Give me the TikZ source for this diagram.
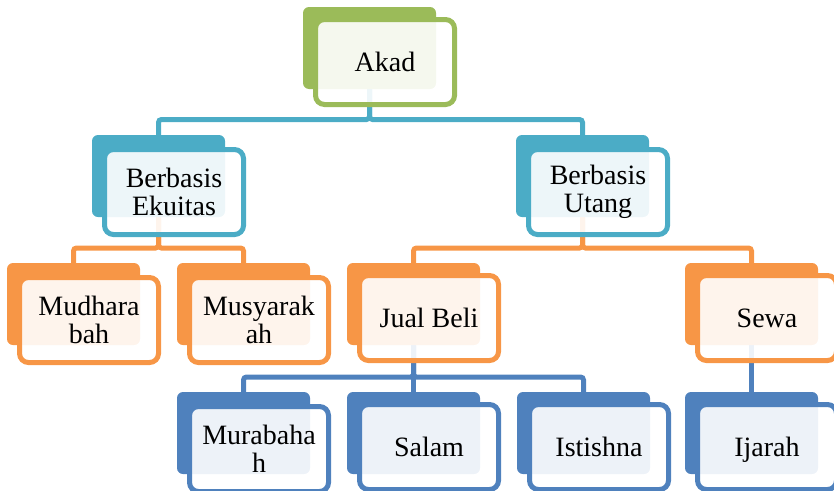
\documentclass[tikz,border=0pt]{standalone}
\usepackage{fontspec}
\setmainfont{Liberation Serif}
\pgfdeclarelayer{bg}
\pgfsetlayers{bg,main}
\definecolor{cgreen}{HTML}{9BBB59}
\definecolor{cteal}{HTML}{4BACC6}
\definecolor{corange}{HTML}{F79646}
\definecolor{cblue}{HTML}{4F81BD}
\newcommand\boxpair[6][]{%
  \node[backbox=#5] (#2) at (#3+66.5,#4+41) {};
  \node[frontbox=#5,#1] (#2t) at (#3+82,#4+55) {#6};}
\begin{document}
\begin{tikzpicture}[x=1pt,y=-1pt,
  backbox/.style={rectangle, rounded corners=6pt, minimum width=133pt, minimum height=82pt, inner sep=0pt, outer sep=0pt, fill=#1},
  frontbox/.style={rectangle, rounded corners=9pt, minimum width=139pt, minimum height=85pt, inner sep=0pt, outer sep=0pt, draw=#1, line width=5pt, fill=white, fill opacity=0.9, text opacity=1, align=center, font=\fontsize{28}{28}\selectfont},
  oneline/.style={text height=19pt, text depth=0pt},
  twoline/.style={yshift=-2pt},
  conn/.style={draw=#1, line width=5pt, rounded corners=3pt}]
\useasboundingbox (0,0) rectangle (834,490);
\clip (0,0) rectangle (834,490);
\boxpair[oneline]{akad}{303}{7}{cgreen}{Akad}
\boxpair[twoline]{ekuitas}{92}{135}{cteal}{Berbasis\\Ekuitas}
\boxpair[twoline]{utang}{516}{135}{cteal}{Berbasis\\Utang}
\boxpair[twoline]{mudharabah}{7}{263}{corange}{Mudhara\\bah}
\boxpair[twoline]{musyarakah}{177}{263}{corange}{Musyarak\\ah}
\boxpair[oneline]{jualbeli}{347}{263}{corange}{Jual Beli}
\boxpair[oneline]{sewa}{685}{263}{corange}{Sewa}
\boxpair[twoline]{murabahah}{177}{392}{cblue}{Murabaha\\h}
\boxpair[oneline]{salam}{347}{392}{cblue}{Salam}
\boxpair[oneline]{istishna}{517}{392}{cblue}{Istishna}
\boxpair[oneline]{ijarah}{685}{392}{cblue}{Ijarah}
\coordinate (j1) at (369.5,119.5);
\coordinate (j2) at (158.5,248);
\coordinate (j3) at (582.5,248);
\coordinate (j4) at (413.5,377);
\begin{pgfonlayer}{bg}
  \draw[conn=cteal] (akad.south) -- (j1) -| (ekuitas.north);
  \draw[conn=cteal] (akad.south) -- (j1) -| (utang.north);
  \draw[conn=corange] (ekuitas.south) -- (j2) -| (mudharabah.north);
  \draw[conn=corange] (ekuitas.south) -- (j2) -| (musyarakah.north);
  \draw[conn=corange] (utang.south) -- (j3) -| (jualbeli.north);
  \draw[conn=corange] (utang.south) -- (j3) -| (sewa.north);
  \draw[conn=cblue] (jualbeli.south) -- (j4) -| (murabahah.north);
  \draw[conn=cblue] (jualbeli.south) -- (j4) -| (salam.north);
  \draw[conn=cblue] (jualbeli.south) -- (j4) -| (istishna.north);
  \draw[conn=cblue] (sewa.south) -- (ijarah.north);
\end{pgfonlayer}
\end{tikzpicture}
\end{document}
